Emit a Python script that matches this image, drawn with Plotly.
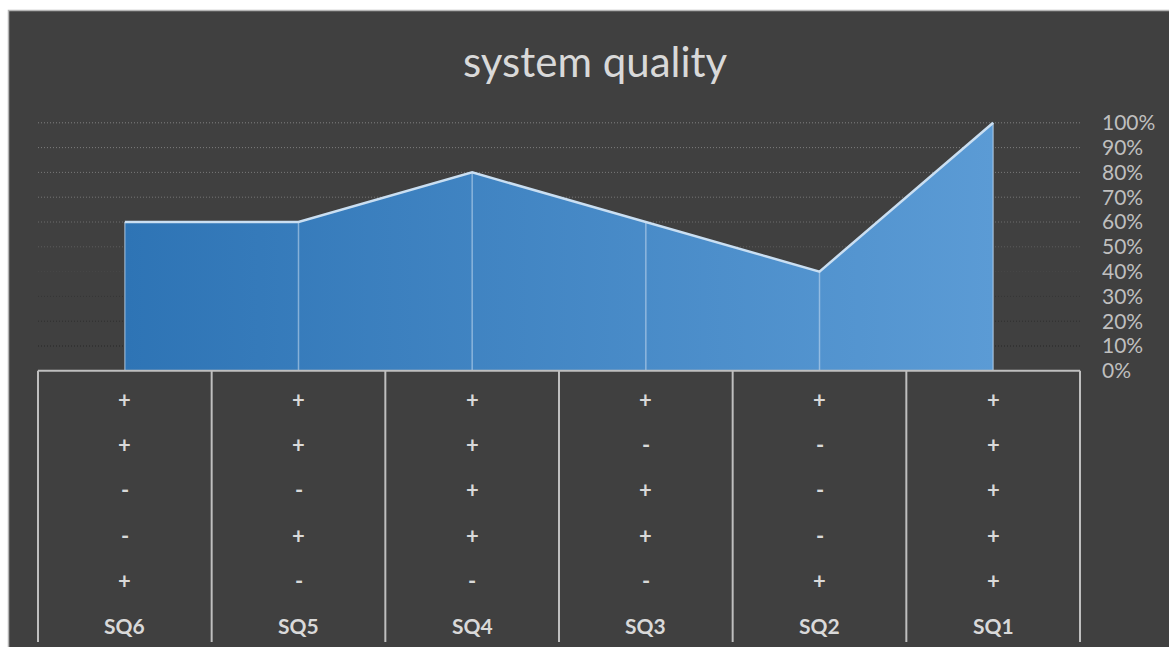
import plotly.graph_objects as go

# Chart data
categories = ["SQ6", "SQ5", "SQ4", "SQ3", "SQ2", "SQ1"]
quality = [0.60, 0.60, 0.80, 0.60, 0.40, 1.00]
tick_values = [0.0, 0.1, 0.2, 0.3, 0.4, 0.5, 0.6, 0.7, 0.8, 0.9, 1.0]
tick_labels = ["0%", "10%", "20%", "30%", "40%", "50%", "60%", "70%", "80%", "90%", "100%"]

# Criteria rows shown under each category (top to bottom)
criteria_rows = [
    ["+", "+", "+", "+", "+", "+"],
    ["+", "+", "+", "-", "-", "+"],
    ["-", "-", "+", "+", "-", "+"],
    ["-", "+", "+", "+", "-", "+"],
    ["+", "-", "-", "-", "+", "+"],
]

# Page geometry (pixels)
W, H = 1169, 647
L, R, T, B = 38, 89, 113, 5
PLOT_W = W - L - R
PLOT_H = H - T - B
PX_PER_UNIT = 248.0
Y_TOP = (370.8 - T) / PX_PER_UNIT
Y_BOTTOM = -(H - B - 370.8) / PX_PER_UNIT

BG = "#404040"
TEXT = "#d9d9d9"
AXIS_TEXT = "#bfbfbf"
TABLE_LINE = "#bfbfbf"
FONT = "Lato"

# gridline shades from 10% up to 100%
grid_shades = ["#262626", "#2d2d2d", "#353535", "#474747", "#5c5c5c",
               "#6c6c6c", "#747474", "#787878", "#7c7c7c", "#808080"]


def px_x(px):
    return (px - L) / PLOT_W


def px_y(py):
    return 1 - (py - T) / PLOT_H


fig = go.Figure()

# Filled area with horizontal gradient
fig.add_trace(go.Scatter(
    x=categories, y=quality, mode="lines",
    fill="tozeroy",
    fillgradient=dict(type="horizontal",
                      colorscale=[[0, "#2e74b5"], [1, "#5b9bd5"]]),
    line=dict(color="#cadff2", width=2.5),
    hoverinfo="skip", showlegend=False,
))

# Drop lines from each point to the baseline
drop_x, drop_y = [], []
for c, v in zip(categories, quality):
    drop_x += [c, c, None]
    drop_y += [0, v, None]
fig.add_trace(go.Scatter(
    x=drop_x, y=drop_y, mode="lines",
    line=dict(color="rgba(200,220,240,0.55)", width=1.5),
    hoverinfo="skip", showlegend=False,
))

shapes = []

# Outer chart frame
shapes.append(dict(type="rect", xref="paper", yref="paper", layer="below",
                   x0=px_x(8.5), x1=px_x(W + 20), y0=px_y(H + 20), y1=px_y(10.5),
                   fillcolor=BG, line=dict(color="#b4b4b4", width=1.5)))

# Dotted gridlines
for v, shade in zip(tick_values[1:], grid_shades):
    shapes.append(dict(type="line", xref="paper", yref="y", layer="below",
                       x0=0, x1=1, y0=v, y1=v,
                       line=dict(color=shade, width=1, dash="1px,2px")))

# Table: top rule and column separators
n = len(categories)
shapes.append(dict(type="line", xref="paper", yref="y", x0=0, x1=1, y0=0, y1=0,
                   line=dict(color=TABLE_LINE, width=2)))
for k in range(n + 1):
    shapes.append(dict(type="line", xref="paper", yref="y",
                       x0=k / n, x1=k / n, y0=0, y1=Y_BOTTOM,
                       line=dict(color=TABLE_LINE, width=2)))

annotations = []
n_rows = len(criteria_rows) + 1
row_h = -Y_BOTTOM / n_rows
for r, row in enumerate(criteria_rows):
    for c, sym in zip(categories, row):
        annotations.append(dict(
            x=c, y=-(r + 0.5) * row_h, xref="x", yref="y", yshift=-6,
            text=sym, showarrow=False, yanchor="middle",
            font=dict(family=FONT, size=22, color=TEXT, weight="bold"),
        ))
for c in categories:
    annotations.append(dict(
        x=c, y=-(n_rows - 0.5) * row_h, xref="x", yref="y", yshift=-6,
        text=c, showarrow=False, yanchor="middle",
        font=dict(family=FONT, size=21, color=TEXT, weight="bold"),
    ))

# Title
annotations.append(dict(
    x=px_x(595), y=px_y(61), xref="paper", yref="paper",
    text="system quality", showarrow=False, xanchor="center", yanchor="middle",
    font=dict(family=FONT, size=42, color=TEXT),
))

fig.update_layout(
    width=W, height=H,
    margin=dict(l=L, r=R, t=T, b=B),
    paper_bgcolor="white",
    plot_bgcolor="rgba(0,0,0,0)",
    showlegend=False,
    shapes=shapes,
    annotations=annotations,
    xaxis=dict(type="category", range=[-0.5, n - 0.5], visible=False,
               fixedrange=True),
    yaxis=dict(side="right", range=[Y_BOTTOM, Y_TOP],
               tickvals=tick_values, ticktext=tick_labels,
               showgrid=False, zeroline=False, showline=False, ticks="",
               ticklabelstandoff=21,
               tickfont=dict(family=FONT, size=21, color=AXIS_TEXT),
               fixedrange=True),
)

fig.write_html("out.html")
